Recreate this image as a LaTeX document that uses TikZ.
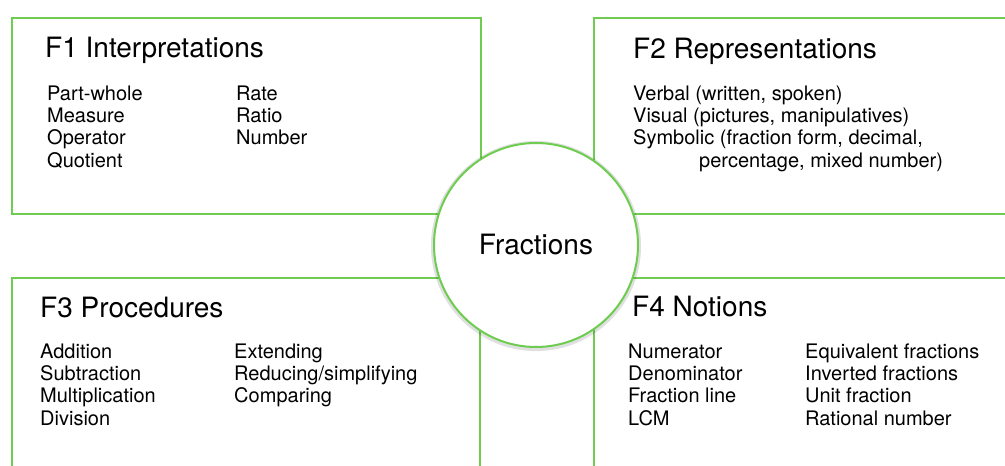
\documentclass[tikz,border=0pt]{standalone}
\usepackage{fontspec}
\setmainfont{TeX Gyre Heros}
\usetikzlibrary{shadows}

\definecolor{leaf}{RGB}{110,205,80}

\begin{document}
\begin{tikzpicture}[x=1pt,y=-1pt,
  panel/.style={draw=leaf,line width=2pt,fill=white,anchor=north west,inner sep=0pt},
  title/.style={anchor=base west,inner sep=0pt,font=\fontsize{28}{30}\selectfont},
  items/.style={anchor=base west,inner sep=0pt,align=left,font=\fontsize{20}{22.3}\selectfont},
  hub/.style={circle,draw=leaf,line width=2pt,fill=white,minimum size=204pt,
              font=\fontsize{28}{30}\selectfont,
              drop shadow={shadow xshift=0pt,shadow yshift=-1pt,shadow scale=1.03,opacity=.12,fill=black}}]
\useasboundingbox (0,0) rectangle (1005,466);
\clip (0,0) rectangle (1005,466);

% the four fields
\node[panel,minimum width=469pt,minimum height=196pt] (f1) at (11,17) {};
\node[panel,minimum width=440pt,minimum height=196pt] (f2) at (593,17) {};
\node[panel,minimum width=468pt,minimum height=220pt] (f3) at (11,277) {};
\node[panel,minimum width=440pt,minimum height=220pt] (f4) at (593,277) {};

% lists sit on the baseline of their last line
\node[title] (f1t) at (45,57) {F1 Interpretations};
\node[items] (f1a) at (47,167) {Part-whole\\Measure\\Operator\\Quotient};
\node[items] (f1b) at (236,144.6) {Rate\\Ratio\\Number};

\node[title] (f2t) at (633,58) {F2 Representations};
\node[items] (f2a) at (633,167) {Verbal (written, spoken)\\Visual (pictures, manipulatives)\\Symbolic (fraction form, decimal,\\\hspace*{66pt}percentage, mixed number)};

\node[title] (f3t) at (40,317) {F3 Procedures};
\node[items] (f3a) at (40,425) {Addition\\Subtraction\\Multiplication\\Division};
\node[items] (f3b) at (234,402.6) {Extending\\Reducing/simplifying\\Comparing};

\node[title] (f4t) at (632,316) {F4 Notions};
\node[items] (f4a) at (628,425) {Numerator\\Denominator\\Fraction line\\LCM};
\node[items] (f4b) at (805,425) {Equivalent fractions\\Inverted fractions\\Unit fraction\\Rational number};

% centre
\node[hub] (frac) at (536,245) {Fractions};
\end{tikzpicture}
\end{document}
